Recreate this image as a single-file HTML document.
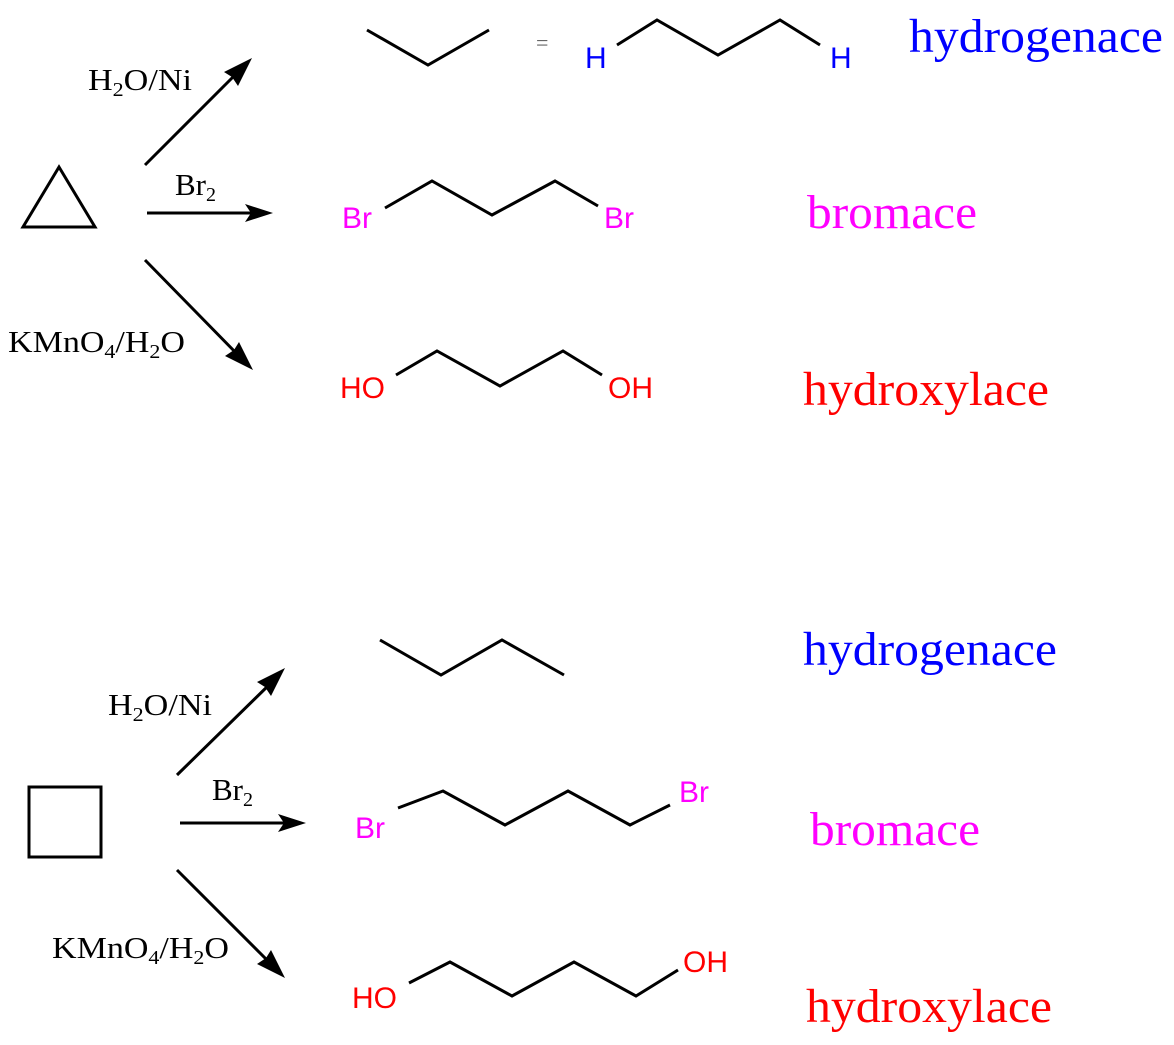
<!DOCTYPE html>
<html><head><meta charset="utf-8"><style>body{margin:0;background:#fff}svg{display:block}</style></head><body>
<svg width="1174" height="1045" viewBox="0 0 1174 1045" xmlns="http://www.w3.org/2000/svg">
<g stroke="#000" stroke-width="3" fill="none">
<polygon points="23,227 95,227 59,167"/>
<line x1="145" y1="165" x2="240" y2="70"/>
<line x1="147" y1="213" x2="258" y2="213"/>
<line x1="145" y1="260" x2="241" y2="358"/>
<polyline points="367,30 428,65 489,30"/>
<polyline points="617,45 657,20 718,55 780,20 820,45"/>
<polyline points="385,208 432,181 492,215 555,181 598,206"/>
<polyline points="396,375 437,351 500,386 563,351 602,375"/>
<rect x="29" y="787" width="72" height="70"/>
<line x1="177" y1="775" x2="273" y2="681"/>
<line x1="180" y1="823" x2="290" y2="823"/>
<line x1="177" y1="870" x2="273" y2="966"/>
<polyline points="380,640 441,675 502,640 564,675"/>
<polyline points="398,808 443,791 505,825 568,791 630,825 670,805"/>
<polyline points="409,983 450,962 512,996 574,962 636,996 678,970"/>
</g>
<g fill="#000">
<polygon points="252,58 238,86 232,77 224,72"/>
<polygon points="273,213 245,204 251,213 245,222"/>
<polygon points="253,370 225,356 234,350 239,342"/>
<polygon points="285,668 271,696 265,687 257,682"/>
<polygon points="306,823 278,814 284,823 278,832"/>
<polygon points="285,978 257,964 266,958 271,950"/>
</g>
<g font-family="Liberation Serif, serif" font-size="31" fill="#000">
<text x="88" y="90" textLength="104" lengthAdjust="spacingAndGlyphs">H<tspan font-size="20" dy="6">2</tspan><tspan dy="-6">O/Ni</tspan></text>
<text x="175" y="195">Br<tspan font-size="20" dy="6">2</tspan></text>
<text x="8" y="352" textLength="177" lengthAdjust="spacingAndGlyphs">KMnO<tspan font-size="20" dy="6">4</tspan><tspan dy="-6">/H</tspan><tspan font-size="20" dy="6">2</tspan><tspan dy="-6">O</tspan></text>
<text x="108" y="715" textLength="104" lengthAdjust="spacingAndGlyphs">H<tspan font-size="20" dy="6">2</tspan><tspan dy="-6">O/Ni</tspan></text>
<text x="212" y="800">Br<tspan font-size="20" dy="6">2</tspan></text>
<text x="52" y="958" textLength="177" lengthAdjust="spacingAndGlyphs">KMnO<tspan font-size="20" dy="6">4</tspan><tspan dy="-6">/H</tspan><tspan font-size="20" dy="6">2</tspan><tspan dy="-6">O</tspan></text>
<text x="536" y="50" font-size="22" fill="#666">=</text>
</g>
<g font-family="Liberation Sans, sans-serif" font-size="30">
<text x="585" y="68" fill="#0000ff">H</text>
<text x="830" y="68" fill="#0000ff">H</text>
<text x="342" y="228" fill="#ff00ff">Br</text>
<text x="604" y="228" fill="#ff00ff">Br</text>
<text x="340" y="398" fill="#ff0000">HO</text>
<text x="608" y="398" fill="#ff0000">OH</text>
<text x="355" y="838" fill="#ff00ff">Br</text>
<text x="679" y="802" fill="#ff00ff">Br</text>
<text x="352" y="1008" fill="#ff0000">HO</text>
<text x="683" y="972" fill="#ff0000">OH</text>
</g>
<g font-family="Liberation Serif, serif" font-size="48">
<text x="909" y="52" fill="#0000ff" textLength="254" lengthAdjust="spacingAndGlyphs">hydrogenace</text>
<text x="807" y="228" fill="#ff00ff" textLength="170" lengthAdjust="spacingAndGlyphs">bromace</text>
<text x="803" y="405" fill="#ff0000" textLength="246" lengthAdjust="spacingAndGlyphs">hydroxylace</text>
<text x="803" y="665" fill="#0000ff" textLength="254" lengthAdjust="spacingAndGlyphs">hydrogenace</text>
<text x="810" y="845" fill="#ff00ff" textLength="170" lengthAdjust="spacingAndGlyphs">bromace</text>
<text x="806" y="1022" fill="#ff0000" textLength="246" lengthAdjust="spacingAndGlyphs">hydroxylace</text>
</g>
</svg>
</body></html>
